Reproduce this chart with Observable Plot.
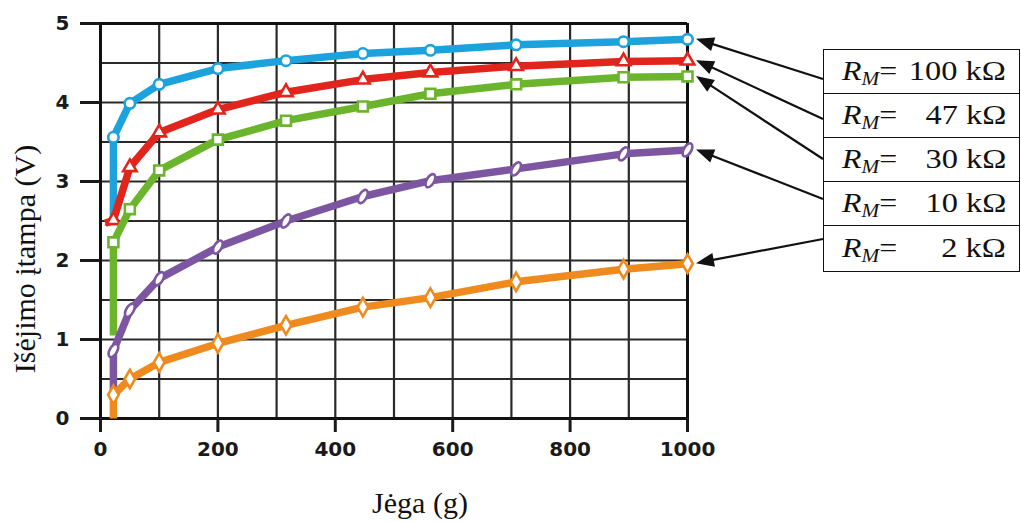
<!DOCTYPE html>
<html><head><meta charset="utf-8">
<script src="https://cdn.jsdelivr.net/npm/d3@7"></script>
<script src="https://cdn.jsdelivr.net/npm/@observablehq/plot@0.6"></script>
<style>
body{margin:0;background:#fff;}
#wrap{position:relative;width:1021px;height:522px;overflow:hidden;background:#fff;}
#legend{position:absolute;left:823px;top:49px;width:197px;border:1.5px solid #111;font-family:"Liberation Serif","Times New Roman",serif;font-size:27px;color:#111;box-sizing:border-box;background:#fff;}
.row{height:44px;display:flex;align-items:center;justify-content:space-between;padding:0 13px 0 18px;border-bottom:1.5px solid #111;box-sizing:border-box;white-space:pre;}
.row:last-child{border-bottom:none;height:45px;}
.l{display:inline-block;transform:scaleX(1.18);transform-origin:left center;}
.r{display:inline-block;transform:scaleX(1.2);transform-origin:right center;}
.sub{font-size:18px;font-style:italic;position:relative;top:5px;}
</style></head>
<body><div id="wrap"><div id="legend"></div></div>
<script>
// Data
const forces = [22, 50, 100, 200, 316, 447, 562, 708, 891, 1000];
const rmLabels = ["100", "47", "30", "10", "2"];
const volt100 = [3.56, 3.99, 4.23, 4.43, 4.53, 4.62, 4.66, 4.73, 4.77, 4.80];
const volt47  = [2.51, 3.18, 3.62, 3.91, 4.13, 4.29, 4.38, 4.46, 4.52, 4.53];
const volt30  = [2.23, 2.65, 3.14, 3.53, 3.77, 3.95, 4.11, 4.23, 4.32, 4.33];
const volt10  = [0.86, 1.37, 1.77, 2.17, 2.50, 2.81, 3.01, 3.16, 3.35, 3.40];
const volt2   = [0.30, 0.50, 0.71, 0.95, 1.18, 1.41, 1.53, 1.73, 1.89, 1.96];
const startForce = [22, 8, 22, 22, 22];
const startVolt  = [2.45, 2.47, 1.05, 0.35, 0];
const xTicks = [0, 200, 400, 600, 800, 1000];
const yTicks = [0, 1, 2, 3, 4, 5];
const xGrid = [0, 100, 200, 300, 400, 500, 600, 700, 800, 900, 1000];
const yGrid = [0, 0.5, 1, 1.5, 2, 2.5, 3, 3.5, 4, 4.5, 5];
const colors = ["#1ca2dc", "#e2251c", "#6bb52d", "#7d56a2", "#ef8b1e"];

const slantedOval = {
  draw(context, size) {
    const r = Math.sqrt(size / Math.PI);
    const a = r * 1.4, b = r * 0.72, th = -Math.PI / 3;
    const ux = Math.cos(th), uy = Math.sin(th), vx = -uy, vy = ux;
    const k = 0.5523;
    const P = (ca, cb) => [ca * a * ux + cb * b * vx, ca * a * uy + cb * b * vy];
    const p0 = P(1, 0);
    context.moveTo(p0[0], p0[1]);
    const segs = [[[1,k],[k,1],[0,1]], [[-k,1],[-1,k],[-1,0]], [[-1,-k],[-k,-1],[0,-1]], [[k,-1],[1,-k],[1,0]]];
    for (const s of segs) {
      const c1 = P(...s[0]), c2 = P(...s[1]), e = P(...s[2]);
      context.bezierCurveTo(c1[0], c1[1], c2[0], c2[1], e[0], e[1]);
    }
    context.closePath();
  }
};
const symbols = ["circle", "triangle", "square", slantedOval, "diamond"];
const radii = [5.2, 5, 5.6, 5.2, 5.6];
const allVolts = [volt100, volt47, volt30, volt10, volt2];

const seriesMarks = [];
allVolts.forEach((vals, i) => {
  const pts = forces.map((f, j) => ({f, v: vals[j]}));
  const linePts = [{f: startForce[i], v: startVolt[i]}, ...pts];
  seriesMarks.push(Plot.line(linePts, {x: "f", y: "v", stroke: colors[i], strokeWidth: 7.5, strokeLinejoin: "round", strokeLinecap: "butt"}));
  seriesMarks.push(Plot.dot(pts, {x: "f", y: "v", symbol: symbols[i], r: radii[i], fill: "white", stroke: colors[i], strokeWidth: 2.6}));
});

const tickFont = {fontFamily: "DejaVu Sans", fontSize: 20, fontWeight: "bold", tickFormat: d => String(d)};
const plot = Plot.plot({
  width: 1021, height: 522,
  marginLeft: 100, marginRight: 334, marginTop: 23, marginBottom: 104,
  x: {domain: [0, 1000]},
  y: {domain: [0, 5]},
  style: {background: "white", color: "#1a1a1a", overflow: "visible"},
  marks: [
    Plot.ruleY(yGrid, {stroke: "#2a2a2a", strokeWidth: 2.2}),
    Plot.ruleX(xGrid, {stroke: "#2a2a2a", strokeWidth: 2.2}),
    Plot.ruleY([0, 5], {stroke: "#111", strokeWidth: 3}),
    Plot.ruleX([0, 1000], {stroke: "#111", strokeWidth: 3}),
    Plot.axisY({ticks: yTicks, tickSize: 20, tickPadding: 11, strokeWidth: 3, label: null, ...tickFont}),
    Plot.axisX({ticks: xTicks, tickSize: 14, tickPadding: 9, strokeWidth: 3, label: null, ...tickFont}),
    ...seriesMarks,
    Plot.text(["Išėjimo įtampa (V)"], {frameAnchor: "left", dx: -75, dy: 38, rotate: -90, fontFamily: "Liberation Serif", fontSize: 30, fill: "#111", textAnchor: "middle", lineAnchor: "middle"}),
    Plot.text(["Jėga (g)"], {frameAnchor: "bottom", dx: 26, dy: 85, fontFamily: "Liberation Serif", fontSize: 30, fill: "#111", textAnchor: "middle", lineAnchor: "middle"})
  ]
});
const wrap = document.getElementById("wrap");
wrap.insertBefore(plot, wrap.firstChild);
plot.style.position = "absolute"; plot.style.left = "0"; plot.style.top = "0";

// Legend
const legend = document.getElementById("legend");
rmLabels.forEach(v => {
  const row = document.createElement("div");
  row.className = "row";
  row.innerHTML = `<span class="l"><i>R</i><span class="sub">M</span>=</span><span class="r">${v} kΩ</span>`;
  legend.appendChild(row);
});

// Arrows from legend to series ends
const xs = plot.scale("x"), ys = plot.scale("y");
const svg = d3.select(plot);
const g = svg.append("g");
const legLeft = 823, legTop = 49, rowH = 44;
allVolts.forEach((vals, i) => {
  const tipX = xs.apply(1000) + 9, tipY = ys.apply(vals[vals.length - 1]);
  const tailX = legLeft, tailY = legTop + rowH * i + rowH / 2 + (2 - i) * 4;
  const dx = tipX - tailX, dy = tipY - tailY, len = Math.hypot(dx, dy);
  const ux = dx / len, uy = dy / len;
  const bx = tipX - ux * 18, by = tipY - uy * 18;
  g.append("line").attr("x1", tailX).attr("y1", tailY).attr("x2", bx + ux * 2).attr("y2", by + uy * 2)
    .attr("stroke", "#111").attr("stroke-width", 2.2);
  const hw = 7;
  g.append("path").attr("d", `M${tipX},${tipY}L${bx - uy * hw},${by + ux * hw}L${bx + uy * hw},${by - ux * hw}Z`).attr("fill", "#111");
});
</script>
</body></html>
